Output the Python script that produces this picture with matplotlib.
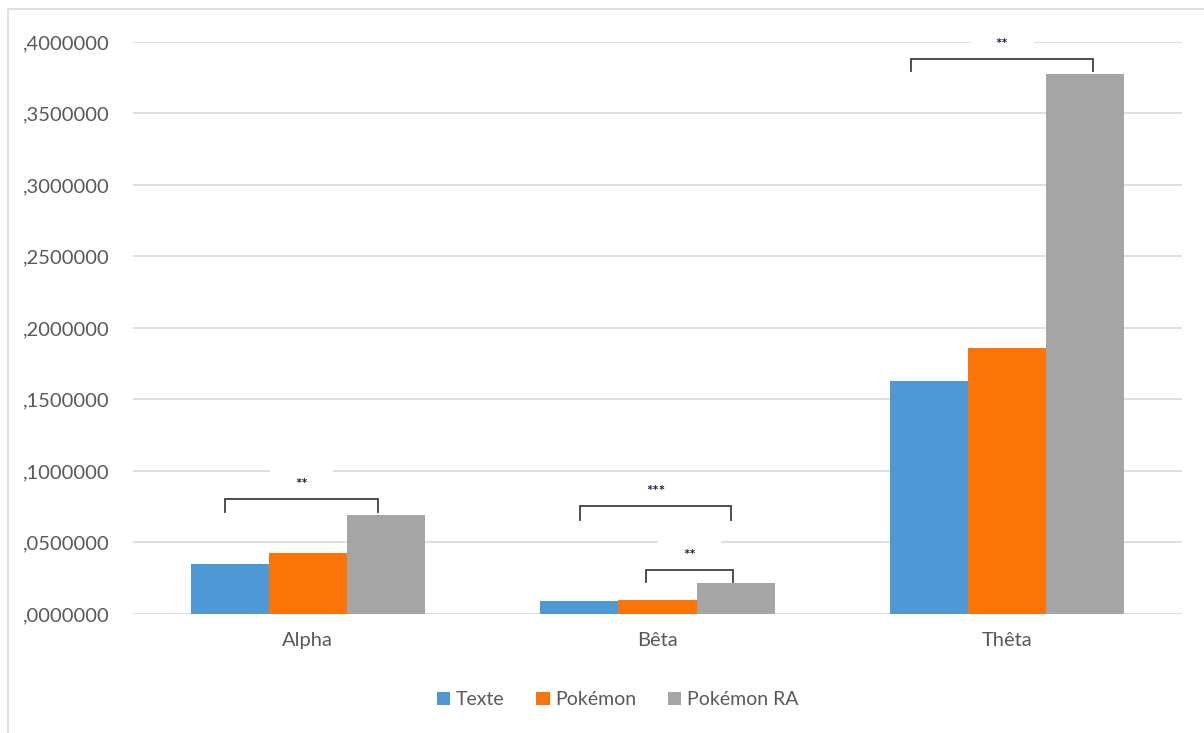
import numpy as np
import matplotlib.pyplot as plt
from matplotlib.patches import Rectangle

plt.rcParams['font.family'] = ['Lato', 'DejaVu Sans']

categories = ['Alpha', 'Bêta', 'Thêta']
series_names = ['Texte', 'Pokémon', 'Pokémon RA']
texte = [0.0350, 0.0091, 0.1630]
pokemon = [0.0427, 0.0098, 0.1860]
pokemon_ra = [0.0692, 0.0217, 0.3776]
colors = ['#4F98D6', '#FA7408', '#A5A5A5']

# significance brackets: (group, x0 offset, x1 offset, top, tick bottom, label)
brackets = [
    (0, -0.236, 0.201, 0.0804, 0.0713, '**'),
    (1, -0.221, 0.211, 0.0755, 0.0657, '***'),
    (1, -0.034, 0.215, 0.0308, 0.0224, '**'),
    (2, -0.275, 0.246, 0.3883, 0.3797, '**'),
]

fig = plt.figure(figsize=(12.04, 7.33), dpi=100)
ax = fig.add_axes([0.1105, 0.1624, 0.8712, 0.7803])

x = np.arange(len(categories))
w = 0.2235
for i, (vals, name) in enumerate(zip([texte, pokemon, pokemon_ra], series_names)):
    ax.bar(x + (i - 1) * w, vals, w, color=colors[i], label=name, zorder=2)

ax.set_xlim(-0.5, 2.5)
ax.set_ylim(0, 0.4)
ticks = np.arange(0, 0.4001, 0.05)
ax.set_yticks(ticks)
ax.set_yticklabels([',%07d' % round(v * 1e7) for v in ticks])
ax.set_xticks(x)
ax.set_xticklabels(categories)
ax.tick_params(length=0, labelsize=14.5, colors='#595959')
ax.tick_params(axis='y', pad=17)
ax.tick_params(axis='x', pad=13)
ax.grid(axis='y', color='#D9D9D9', linewidth=1.2, zorder=0)
ax.set_axisbelow(True)
for s in ax.spines.values():
    s.set_visible(False)

for g, x0, x1, top, bot, lab in brackets:
    ax.plot([g + x0, g + x0, g + x1, g + x1], [bot, top, top, bot],
            color='#404040', linewidth=1.3, zorder=3, clip_on=False,
            solid_joinstyle='miter')
    xm = g + (x0 + x1) / 2
    ty = top + 0.0095
    # white label box cuts through the gridlines behind the stars
    ax.add_patch(Rectangle((xm - 0.09, ty - 0.006), 0.18, 0.019,
                           facecolor='white', edgecolor='none', zorder=1,
                           clip_on=False))
    ax.text(xm, ty, lab, ha='center', va='center',
            fontsize=11, fontweight='bold', color='#202040', zorder=4)

ax.legend(loc='center', bbox_to_anchor=(0.462, -0.15), ncol=3, frameon=False,
          fontsize=14, handlelength=0.7, handleheight=0.7, handletextpad=0.3,
          columnspacing=1.6, labelcolor='#595959')

fig.patches.append(Rectangle((8 / 1204, -0.1), 1.2, 1.1 - 9 / 733,
                             transform=fig.transFigure, facecolor='none',
                             edgecolor='#D9D9D9', linewidth=1.2))

fig.savefig('out.png', dpi=100)
